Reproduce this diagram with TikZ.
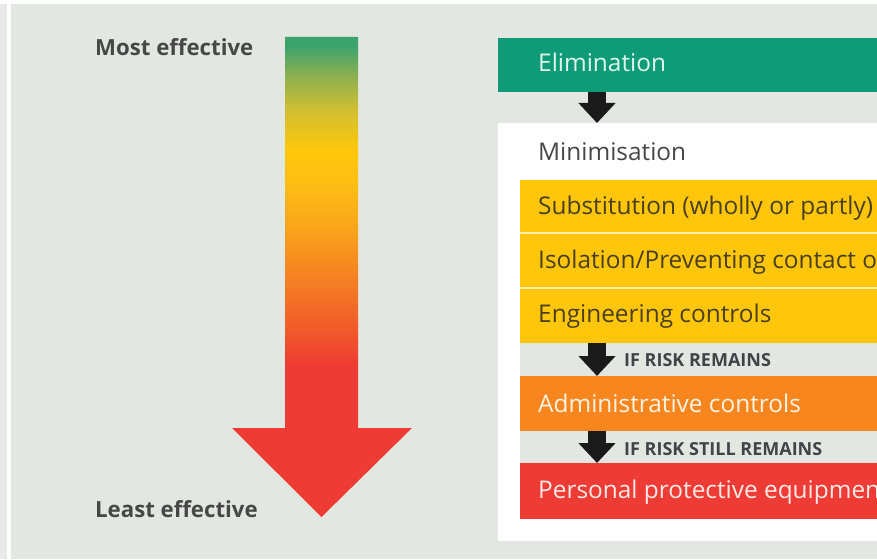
\documentclass[tikz,border=0pt]{standalone}
\usepackage{fontspec}
\setmainfont{Open Sans}
\usetikzlibrary{arrows.meta}
\definecolor{bgc}{HTML}{E2E7E2}
\definecolor{stripc}{HTML}{E9E9E9}
\definecolor{elimc}{HTML}{0F9B77}
\definecolor{elimtxt}{HTML}{DFF5EC}
\definecolor{yelc}{HTML}{FFC60B}
\definecolor{yeltxt}{HTML}{4A4020}
\definecolor{sepc}{HTML}{FFEFA8}
\definecolor{orac}{HTML}{F7861F}
\definecolor{oratxt}{HTML}{FFF3E3}
\definecolor{redc}{HTML}{EE3B36}
\definecolor{redtxt}{HTML}{FFE9E4}
\definecolor{darktxt}{HTML}{474747}
\definecolor{captxt}{HTML}{3F4447}
\definecolor{arrc}{HTML}{1A1A1A}
\definecolor{gA}{HTML}{EE3B33}
\definecolor{gB}{HTML}{F25A2A}
\definecolor{gC}{HTML}{F47F22}
\definecolor{gD}{HTML}{F9A31B}
\definecolor{gE}{HTML}{FDBB14}
\definecolor{gF}{HTML}{FFC80A}
\definecolor{gG}{HTML}{D0BF30}
\definecolor{gH}{HTML}{8CB050}
\definecolor{gI}{HTML}{3DA36D}
\pgfdeclareverticalshading{effgrad}{100bp}{color(0bp)=(gA); color(40.8bp)=(gA); color(44.5bp)=(gB); color(49.7bp)=(gC); color(54.9bp)=(gD); color(59.1bp)=(gE); color(63.2bp)=(gF); color(67.4bp)=(gG); color(71bp)=(gH); color(74bp)=(gI); color(100bp)=(gI)}
\tikzset{
  bar/.style={anchor=north west, inner sep=0pt, minimum width=392pt, outer sep=0pt},
  bartext/.style={anchor=base west, inner sep=0pt, font=\fontsize{24.4}{28}\selectfont},
  sidetext/.style={anchor=base west, inner sep=0pt, text=darktxt, font=\fontsize{22.2}{26}\selectfont\bfseries},
  captext/.style={anchor=base west, inner sep=0pt, text=captxt, font=\fontsize{18}{22}\selectfont\bfseries},
  blockarrow/.style={draw=arrc, line width=18pt, -{Triangle[length=20pt,width=36pt]}}
}
\begin{document}
\begin{tikzpicture}[x=1pt,y=-1pt]
\useasboundingbox (0,0) rectangle (877,559);
\clip (0,0) rectangle (877,559);
\fill[bgc] (0,0) rectangle (877,559);
\fill[stripc] (0,0) rectangle (7,559);
\fill[white] (7,0) rectangle (11,559);
\fill[white] (0,0) rectangle (877,4);
% gradient arrow
\shade[shading=effgrad] (285,37) -- (358,37) -- (358,428) -- (412,428) -- (321.5,517) -- (232,428) -- (285,428) -- cycle;
\node[sidetext] (most) at (95,56) {Most effective};
\node[sidetext] (least) at (95,517) {Least effective};
% right panel
\node[bar, fill=elimc, minimum height=54pt] (elim) at (498,38) {};
\node[bar, fill=white, minimum height=418pt] (mini) at (498,123) {};
\node[bar, fill=bgc, minimum height=120pt] (gap) at (520,343) {};
\node[bar, fill=sepc, minimum height=111pt] (sep) at (520,232) {};
\node[bar, fill=yelc, minimum height=52pt] (sub) at (520,180) {};
\node[bar, fill=yelc, minimum height=53pt] (iso) at (520,234) {};
\node[bar, fill=yelc, minimum height=54pt] (eng) at (520,289) {};
\node[bar, fill=orac, minimum height=55pt] (adm) at (520,376) {};
\node[bar, fill=redc, minimum height=56pt] (ppe) at (520,463) {};
% texts
\node[bartext, text=elimtxt] (telim) at (538,72) {Elimination};
\node[bartext, text=darktxt] (tmini) at (538,160) {Minimisation};
\node[bartext, text=yeltxt] (tsub) at (538,214) {Substitution (wholly or partly)};
\node[bartext, text=yeltxt] (tiso) at (538,268) {Isolation/Preventing contact o};
\node[bartext, text=yeltxt] (teng) at (538,322) {Engineering controls};
\node[bartext, text=oratxt] (tadm) at (538,412) {Administrative controls};
\node[bartext, text=redtxt] (tppe) at (538,498) {Personal protective equipmen};
\node[captext] (c1) at (624,366) {IF RISK REMAINS};
\node[captext] (c2) at (624,455) {IF RISK STILL REMAINS};
% arrows
\coordinate (ax) at (597,0);
\draw[blockarrow] (ax |- elim.south) -- (ax |- mini.north);
\draw[blockarrow] (ax |- eng.south) -- (ax |- adm.north);
\draw[blockarrow] (ax |- adm.south) -- (ax |- ppe.north);
\end{tikzpicture}
\end{document}
